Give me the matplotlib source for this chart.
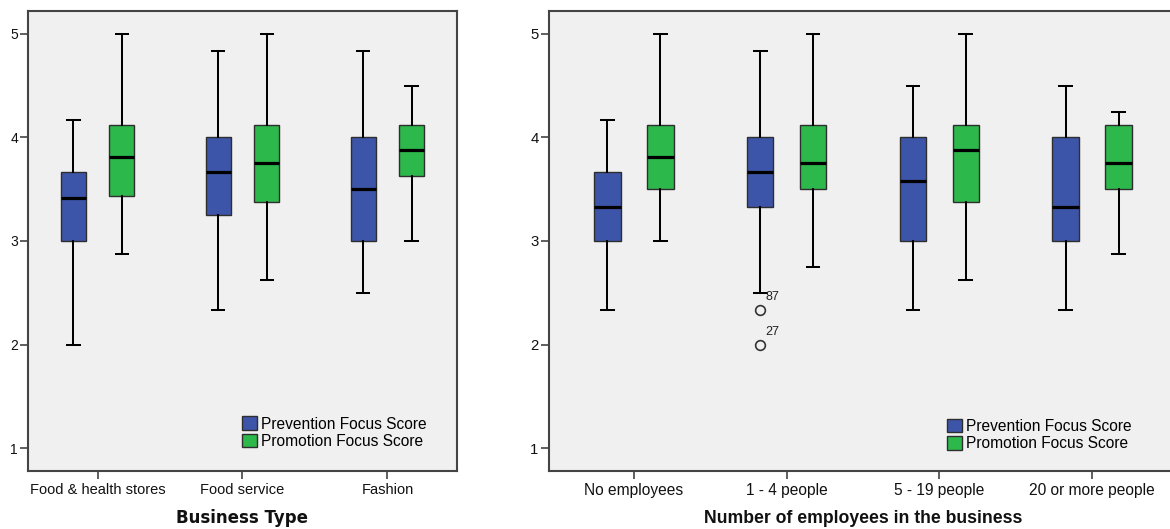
import matplotlib
matplotlib.use('Agg')
import matplotlib.pyplot as plt
from matplotlib.patches import Patch

# ---------------- data ----------------
left_categories = ["Food & health stores", "Food service", "Fashion"]
left_prev_low = [2.0, 2.333, 2.5]
left_prev_q1 = [3.0, 3.25, 3.0]
left_prev_med = [3.417, 3.667, 3.5]
left_prev_q3 = [3.667, 4.0, 4.0]
left_prev_high = [4.167, 4.833, 4.833]

left_prom_low = [2.875, 2.625, 3.0]
left_prom_q1 = [3.4375, 3.375, 3.625]
left_prom_med = [3.8125, 3.75, 3.875]
left_prom_q3 = [4.125, 4.125, 4.125]
left_prom_high = [5.0, 5.0, 4.5]

right_categories = ["No employees", "1 - 4 people", "5 - 19 people", "20 or more people"]
right_prev_low = [2.333, 2.5, 2.333, 2.333]
right_prev_q1 = [3.0, 3.333, 3.0, 3.0]
right_prev_med = [3.333, 3.667, 3.583, 3.333]
right_prev_q3 = [3.667, 4.0, 4.0, 4.0]
right_prev_high = [4.167, 4.833, 4.5, 4.5]
right_prev_fliers = [[], [2.333, 2.0], [], []]
right_prev_flier_ids = [[], ["87", "27"], [], []]

right_prom_low = [3.0, 2.75, 2.625, 2.875]
right_prom_q1 = [3.5, 3.5, 3.375, 3.5]
right_prom_med = [3.8125, 3.75, 3.875, 3.75]
right_prom_q3 = [4.125, 4.125, 4.125, 4.125]
right_prom_high = [5.0, 5.0, 5.0, 4.25]

series_names = ["Prevention Focus Score", "Promotion Focus Score"]
yticks = [1, 2, 3, 4, 5]

BLUE = "#3D55A8"
GREEN = "#2DB84B"
BG = "#F0F0F0"
EDGE = "#2E2E2E"
FRAME = "#444444"

W, H = 1170, 529
fig = plt.figure(figsize=(W / 100, H / 100), dpi=100)
fig.patch.set_facecolor("white")

axL = fig.add_axes([28.3 / W, 1 - 471 / H, 428.4 / W, 460 / H])
axR = fig.add_axes([549 / W, 1 - 471 / H, 628 / W, 460 / H])


def stats_list(low, q1, med, q3, high, fliers=None):
    out = []
    for i in range(len(low)):
        out.append(dict(whislo=low[i], q1=q1[i], med=med[i], q3=q3[i],
                        whishi=high[i],
                        fliers=(fliers[i] if fliers else [])))
    return out


def draw(ax, cats, prev, prom, offset, width, capw, pad_units, tick_fs, legend_fs,
         legend_anchor, font, xlabel, xlabel_fs, xlabel_font,
         prev_fliers=None, prev_ids=None):
    n = len(cats)
    base = list(range(n))
    for stats, pos_off, color in ((stats_list(*prev, fliers=prev_fliers), -offset, BLUE),
                                  (stats_list(*prom), offset, GREEN)):
        ax.bxp(stats, positions=[b + pos_off for b in base], widths=width,
               patch_artist=True, manage_ticks=False, capwidths=capw,
               boxprops=dict(facecolor=color, edgecolor=EDGE, linewidth=1.0),
               medianprops=dict(color="black", linewidth=2.3, solid_capstyle="butt"),
               whiskerprops=dict(color="black", linewidth=1.45),
               capprops=dict(color="black", linewidth=1.45),
               flierprops=dict(marker="o", markerfacecolor="none",
                               markeredgecolor="#333333", markersize=7,
                               markeredgewidth=1.2))
    if prev_fliers:
        for i, (vals, ids) in enumerate(zip(prev_fliers, prev_ids)):
            for v, lab in zip(vals, ids):
                ax.annotate(lab, xy=(i - offset, v), xytext=(4, 5),
                            textcoords="offset points", fontsize=9,
                            family=font, color="#222222", va="bottom", ha="left")
    ax.set_facecolor(BG)
    ax.set_xlim(-pad_units, n - 1 + pad_units)
    ax.set_ylim(0.778, 5.222)
    ax.set_xticks(base)
    ax.set_xticklabels(cats, fontsize=tick_fs, family=font)
    ax.set_yticks(yticks)
    ax.set_yticklabels([str(t) for t in yticks], fontsize=tick_fs - 0.5, family=font)
    ax.tick_params(axis="both", direction="out", length=6, width=1.2, color=FRAME,
                   labelcolor="#111111")
    ax.tick_params(axis="x", pad=2.5)
    ax.tick_params(axis="y", pad=1.5)
    for s in ax.spines.values():
        s.set_color(FRAME)
        s.set_linewidth(1.5)
    ax.set_xlabel(xlabel, fontsize=xlabel_fs, fontweight="bold",
                  family=xlabel_font, labelpad=9, color="#111111")
    handles = [Patch(facecolor=BLUE, edgecolor=EDGE, linewidth=1.0, label=series_names[0]),
               Patch(facecolor=GREEN, edgecolor=EDGE, linewidth=1.0, label=series_names[1])]
    ax.legend(handles=handles, loc="lower left", bbox_to_anchor=legend_anchor,
              frameon=False, borderpad=0, borderaxespad=0, handlelength=0.95,
              handleheight=0.95, handletextpad=0.25, labelspacing=0.15,
              prop=dict(family=font, size=legend_fs))


draw(axL, left_categories,
     (left_prev_low, left_prev_q1, left_prev_med, left_prev_q3, left_prev_high),
     (left_prom_low, left_prom_q1, left_prom_med, left_prom_q3, left_prom_high),
     offset=0.167, width=0.17, capw=0.085, pad_units=0.478, tick_fs=10.5, legend_fs=11.2,
     legend_anchor=(0.499, 0.048), font="Liberation Sans",
     xlabel="Business Type", xlabel_fs=12, xlabel_font="DejaVu Sans")

draw(axR, right_categories,
     (right_prev_low, right_prev_q1, right_prev_med, right_prev_q3, right_prev_high),
     (right_prom_low, right_prom_q1, right_prom_med, right_prom_q3, right_prom_high),
     offset=0.173, width=0.173, capw=0.083, pad_units=0.556, tick_fs=11.2, legend_fs=11.2,
     legend_anchor=(0.634, 0.043), font="Liberation Sans",
     xlabel="Number of employees in the business", xlabel_fs=12.7,
     xlabel_font="Liberation Sans",
     prev_fliers=right_prev_fliers, prev_ids=right_prev_flier_ids)

fig.savefig("out.png", dpi=100, facecolor="white")
